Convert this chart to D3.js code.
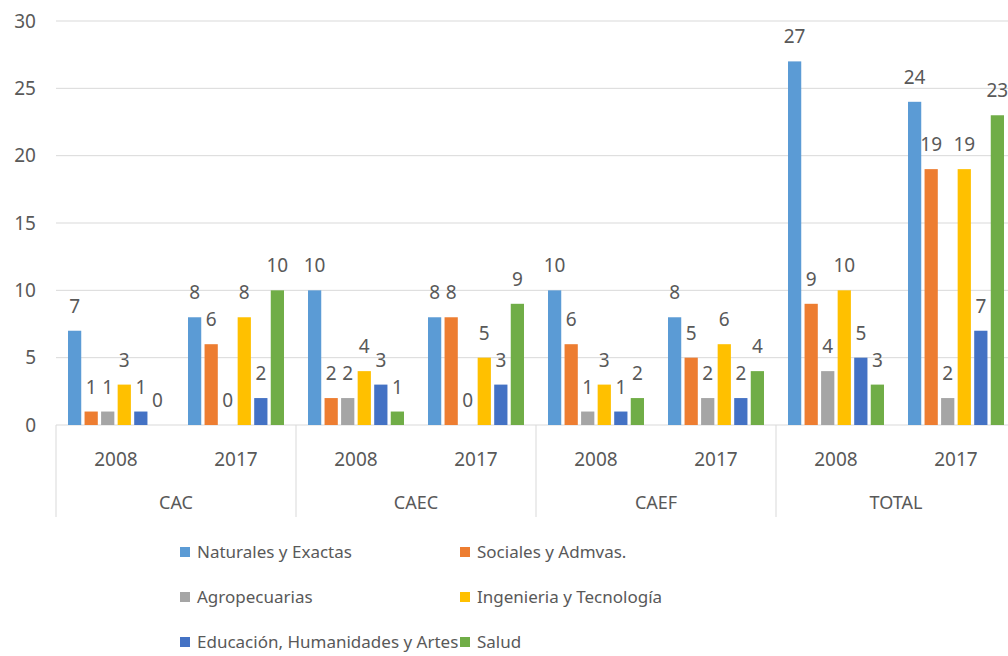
<!DOCTYPE html>
<html>
<head>
<meta charset="utf-8">
<script src="https://d3js.org/d3.v7.min.js"></script>
<style>
    body { margin: 0; background: #fff; }
    text { font-family: "Noto Sans", sans-serif; fill: #595959; }
</style>
</head>
<body>
<svg width="1008" height="656"></svg>
<script>
    var groups = ["CAC", "CAEC", "CAEF", "TOTAL"];
    var years = ["2008", "2017"];
    var seriesNames = ["Naturales y Exactas", "Sociales y Admvas.", "Agropecuarias",
        "Ingenieria y Tecnología", "Educación, Humanidades y Artes", "Salud"];
    var colors = ["#5B9BD5", "#ED7D31", "#A5A5A5", "#FFC000", "#4472C4", "#70AD47"];
    // one row per group+year, one value per series
    var values = {
        "CAC": { "2008": [7, 1, 1, 3, 1, 0], "2017": [8, 6, 0, 8, 2, 10] },
        "CAEC": { "2008": [10, 2, 2, 4, 3, 1], "2017": [8, 8, 0, 5, 3, 9] },
        "CAEF": { "2008": [10, 6, 1, 3, 1, 2], "2017": [8, 5, 2, 6, 2, 4] },
        "TOTAL": { "2008": [27, 9, 4, 10, 5, 3], "2017": [24, 19, 2, 19, 7, 23] }
    };
    var yTicks = [0, 5, 10, 15, 20, 25, 30];

    var svg = d3.select("svg");
    var m = { left: 56, right: 1016, top: 21, bottom: 425 };

    var x0 = d3.scaleBand().domain(groups).range([m.left, m.right]);
    var x1 = d3.scaleBand().domain(years).range([0, x0.bandwidth()]);
    var x2 = d3.scaleBand().domain(d3.range(6)).range([12, x1.bandwidth() - 12]).paddingInner(0.2);
    var y = d3.scaleLinear().domain([0, 30]).range([m.bottom, m.top]);

    // gridlines
    svg.append("g").selectAll("line").data(yTicks).enter().append("line")
        .attr("x1", m.left).attr("x2", m.right)
        .attr("y1", d => y(d)).attr("y2", d => y(d))
        .attr("stroke", "#D9D9D9").attr("stroke-width", 1);

    svg.append("g").selectAll("text").data(yTicks).enter().append("text")
        .attr("x", 36).attr("y", d => y(d)).attr("dy", "0.35em")
        .attr("text-anchor", "end").style("font-size", "19px")
        .text(d => d);

    // group separators
    var seps = groups.map(g => x0(g)).concat([m.right]);
    svg.append("g").selectAll("line").data(seps).enter().append("line")
        .attr("x1", d => d).attr("x2", d => d)
        .attr("y1", m.bottom).attr("y2", 517)
        .attr("stroke", "#D9D9D9");

    var cells = [];
    groups.forEach(g => years.forEach(yr => cells.push({ g: g, yr: yr, v: values[g][yr] })));

    var cell = svg.append("g").selectAll("g").data(cells).enter().append("g")
        .attr("transform", d => "translate(" + (x0(d.g) + x1(d.yr)) + ",0)");

    cell.selectAll("rect").data(d => d.v).enter().append("rect")
        .attr("x", (d, i) => x2(i))
        .attr("width", x2.bandwidth())
        .attr("y", d => y(d))
        .attr("height", d => y(0) - y(d))
        .attr("fill", (d, i) => colors[i]);

    cell.selectAll("text.lbl").data(d => d.v).enter().append("text")
        .attr("class", "lbl")
        .attr("x", (d, i) => x2(i) + x2.bandwidth() / 2)
        .attr("y", d => y(d) - 18)
        .attr("text-anchor", "middle").style("font-size", "19px")
        .text(d => d);

    cell.append("text")
        .attr("x", x1.bandwidth() / 2).attr("y", 466)
        .attr("text-anchor", "middle").style("font-size", "19px")
        .text(d => d.yr);

    svg.append("g").selectAll("text").data(groups).enter().append("text")
        .attr("x", d => x0(d) + x0.bandwidth() / 2).attr("y", 509)
        .attr("text-anchor", "middle").style("font-size", "18px")
        .text(d => d);

    // legend, two columns
    var leg = svg.append("g").selectAll("g").data(seriesNames).enter().append("g")
        .attr("transform", (d, i) => "translate(" + (i % 2 ? 460 : 180) + "," + (552 + Math.floor(i / 2) * 45) + ")");
    leg.append("rect").attr("x", 0).attr("y", -5).attr("width", 10).attr("height", 10)
        .attr("fill", (d, i) => colors[i]);
    leg.append("text").attr("x", 17).attr("y", 0).attr("dy", "0.35em")
        .style("font-size", "17px")
        .text(d => d);
</script>
</body>
</html>
